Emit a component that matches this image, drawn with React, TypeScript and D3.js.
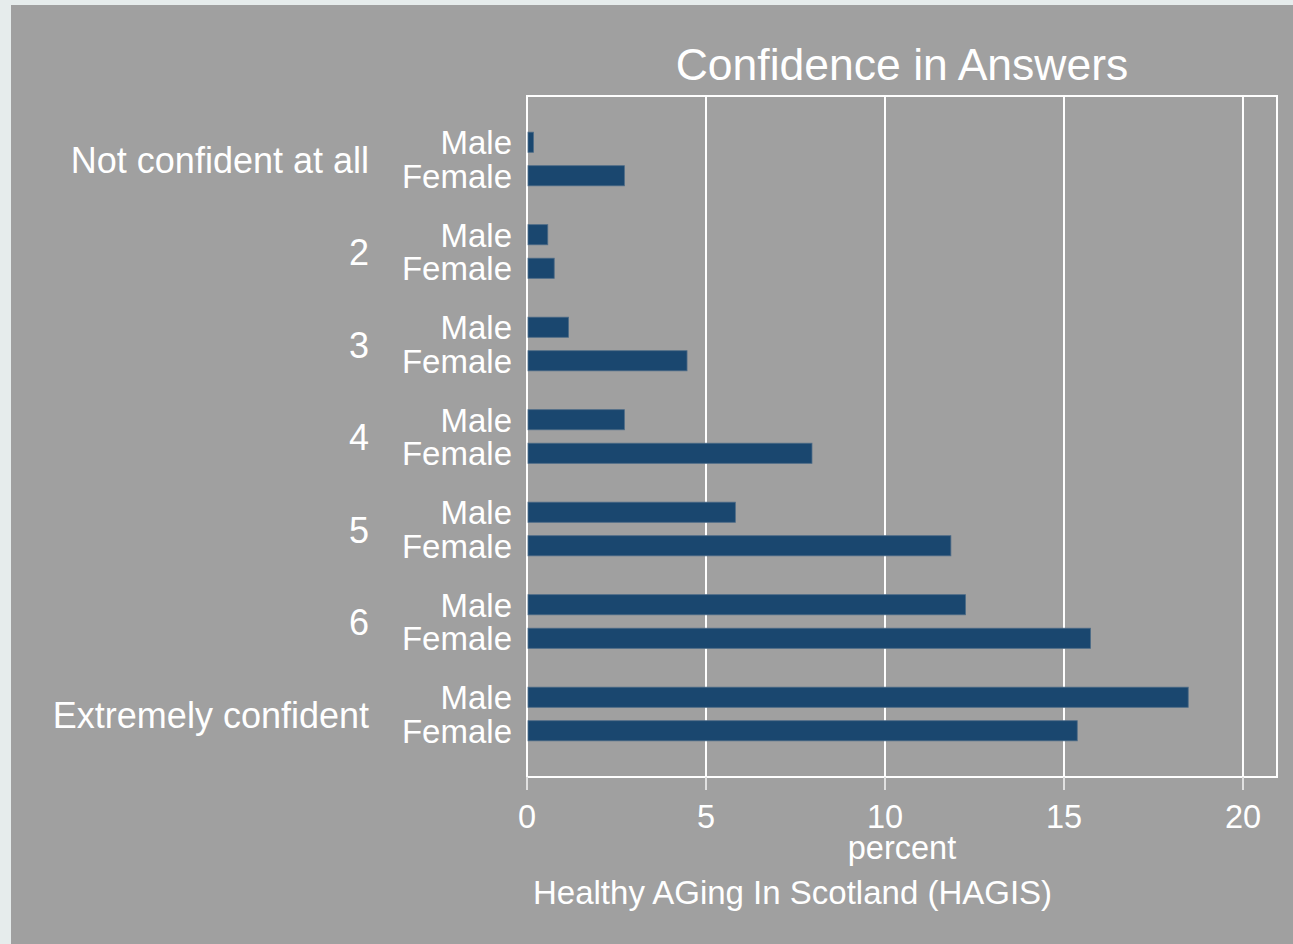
import React from 'react';
import * as d3 from 'd3';

const categories = ['Not confident at all', '2', '3', '4', '5', '6', 'Extremely confident'];
const sexes = ['Male', 'Female'];
const maleValues = [0.18, 0.58, 1.16, 2.72, 5.82, 12.25, 18.47];
const femaleValues = [2.72, 0.76, 4.47, 7.96, 11.84, 15.74, 15.37];
const xTicks = [0, 5, 10, 15, 20];

const W = 1293;
const H = 944;
const plot = { left: 527, right: 1277, top: 96, bottom: 777 };
const font = '"Liberation Sans", Arial, sans-serif';
const barColor = '#1a476f';

function App() {
    const x = d3.scaleLinear().domain([0, 20.95]).range([plot.left, plot.right]);

    const y = d3
        .scaleBand()
        .domain(categories)
        .range([plot.top, plot.bottom])
        .paddingInner(0.42)
        .paddingOuter(0.391);

    const ySex = d3
        .scaleBand()
        .domain(sexes)
        .range([0, y.bandwidth()])
        .paddingInner(0.4)
        .paddingOuter(0);

    const rows = categories.map((c, i) => ({
        category: c,
        values: [
            { sex: 'Male', value: maleValues[i] },
            { sex: 'Female', value: femaleValues[i] }
        ]
    }));

    return (
        <svg
            width={W}
            height={H}
            style={{ position: 'absolute', left: 0, top: 0, display: 'block' }}
            fontFamily={font}
        >
            <rect x={0} y={0} width={W} height={H} fill='#e6ecec' />
            <rect x={11} y={5} width={W - 11} height={H - 5} fill='#a0a0a0' />

            {/* gridlines */}
            {xTicks.filter((t) => t > 0).map((t) => (
                <line
                    key={'g' + t}
                    x1={x(t)} x2={x(t)}
                    y1={plot.top} y2={plot.bottom}
                    stroke='#ffffff'
                    strokeWidth={2}
                />
            ))}

            {/* plot border */}
            <rect
                x={plot.left}
                y={plot.top}
                width={plot.right - plot.left}
                height={plot.bottom - plot.top}
                fill='none'
                stroke='#ffffff'
                strokeWidth={2}
            />

            {/* bars */}
            {rows.map((r) => (
                <g key={r.category} transform={`translate(0,${y(r.category)})`}>
                    {r.values.map((v) => (
                        <rect
                            key={v.sex}
                            x={x(0) + 1}
                            y={ySex(v.sex)}
                            width={x(v.value) - x(0) - 1}
                            height={ySex.bandwidth()}
                            fill={barColor}
                            stroke='#4d6b87'
                            strokeWidth={0.8}
                        />
                    ))}
                </g>
            ))}

            {/* category labels */}
            {categories.map((c) => (
                <text
                    key={'c' + c}
                    x={369}
                    y={y(c) + y.bandwidth() / 2}
                    dy='0.38em'
                    textAnchor='end'
                    fontSize={36}
                    fill='#ffffff'
                >
                    {c}
                </text>
            ))}

            {/* sex labels */}
            {categories.map((c) =>
                sexes.map((s) => (
                    <text
                        key={c + s}
                        x={512}
                        y={y(c) + ySex(s) + ySex.bandwidth() / 2}
                        dy='0.36em'
                        textAnchor='end'
                        fontSize={33}
                        fill='#ffffff'
                    >
                        {s}
                    </text>
                ))
            )}

            {/* x axis ticks */}
            {xTicks.map((t) => (
                <g key={'t' + t}>
                    <line
                        x1={x(t)} x2={x(t)}
                        y1={plot.bottom} y2={plot.bottom + 13}
                        stroke='#e0e0e0'
                        strokeWidth={2}
                    />
                    <text
                        x={x(t)}
                        y={828}
                        textAnchor='middle'
                        fontSize={32.5}
                        fill='#ffffff'
                    >
                        {t}
                    </text>
                </g>
            ))}

            <text
                x={(plot.left + plot.right) / 2}
                y={859}
                textAnchor='middle'
                fontSize={32.5}
                fill='#ffffff'
            >
                percent
            </text>

            <text x={533} y={904} fontSize={33} fill='#ffffff'>
                Healthy AGing In Scotland (HAGIS)
            </text>

            <text
                x={(plot.left + plot.right) / 2}
                y={80}
                textAnchor='middle'
                fontSize={44.5}
                fill='#ffffff'
            >
                Confidence in Answers
            </text>
        </svg>
    );
}

export default App;
